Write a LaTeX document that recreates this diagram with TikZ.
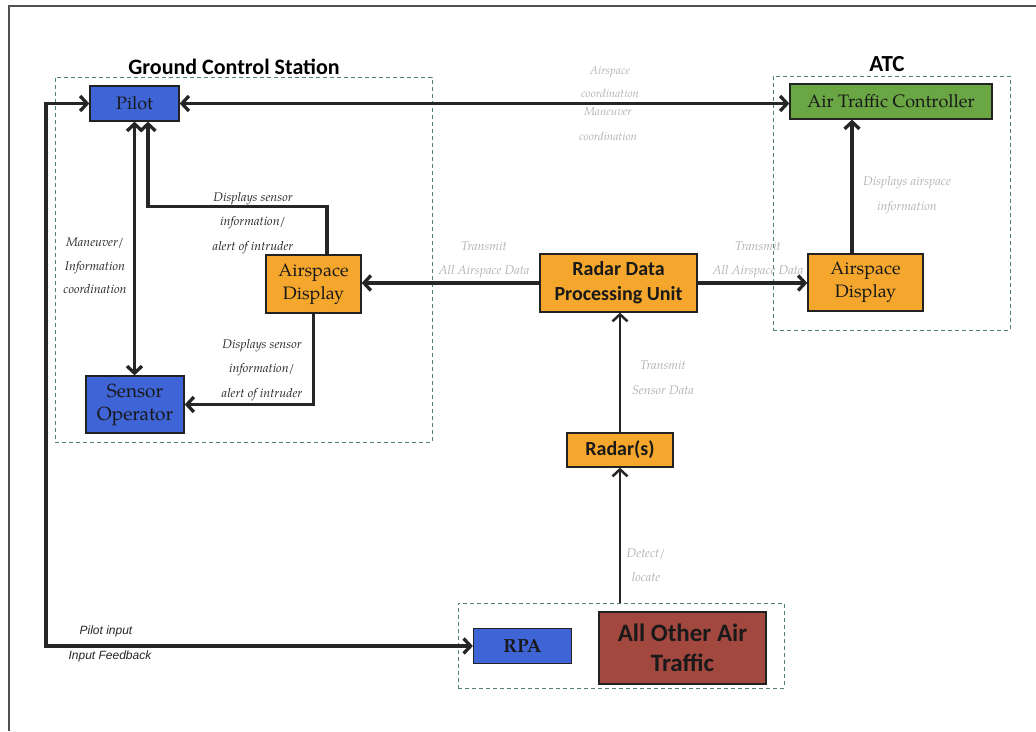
\documentclass[tikz,border=0pt]{standalone}
\usepackage{fontspec}
\newfontfamily\pala{TeX Gyre Pagella}
\newfontfamily\cali{Carlito}
\newfontfamily\arialf{Liberation Sans}
\usetikzlibrary{arrows.meta,calc}

\definecolor{pilotblue}{RGB}{62,100,214}
\definecolor{atcgreen}{RGB}{106,166,68}
\definecolor{dispor}{RGB}{244,167,44}
\definecolor{trafred}{RGB}{163,72,62}
\definecolor{boxline}{RGB}{34,34,34}
\definecolor{grpline}{RGB}{78,130,118}
\definecolor{frameline}{RGB}{80,80,80}

\begin{document}
\begin{tikzpicture}[x=1pt,y=-1pt,
  box/.style={draw=boxline, line width=1.3pt, inner sep=0pt, align=center, text=black!90},
  serifbox/.style={box, font=\pala\fontsize{18}{23}\selectfont},
  sansbox/.style={box, font=\cali\bfseries\fontsize{20}{25}\selectfont},
  grp/.style={draw=grpline, dash pattern=on 4pt off 3pt, line width=1pt, inner sep=0pt},
  grptitle/.style={font=\cali\bfseries\fontsize{22}{26}\selectfont, text=black},
  tipR/.tip={Straight Barb[length=7pt,width=15pt]},
  link/.style={line width=3.3pt, draw=black!85, -tipR},
  bilink/.style={line width=3.3pt, draw=black!85, tipR-tipR},
  slink/.style={line width=2.5pt, draw=black!85, -tipR},
  lbl/.style={font=\pala\itshape\fontsize{12.5}{24.5}\selectfont, align=center, text=black!85},
  glbl/.style={lbl, text=gray!60},
  slbl/.style={font=\arialf\itshape\fontsize{12}{14}\selectfont, text=black!85}
]
\useasboundingbox (0,0) rectangle (1036,731);

% page frame
\draw[frameline, line width=1.5pt] (9,731) -- (9,6) -- (1036,6);

% groups
\node[grp, minimum width=377pt, minimum height=365pt] (gcs) at (243.5,259.5) {};
\node[grp, minimum width=237pt, minimum height=254pt] (atcgrp) at (891.5,203) {};
\node[grp, minimum width=326pt, minimum height=85pt] (airgrp) at (621,645.5) {};
\node[grptitle] (gcst) at (234,67) {Ground Control Station};
\node[grptitle, font=\cali\bfseries\fontsize{23}{26}\selectfont] (atct) at (887,64) {ATC};

% blocks
\node[serifbox, fill=pilotblue, minimum width=89pt, minimum height=35pt] (pilot) at (134.5,103.5) {Pilot};
\node[serifbox, fill=pilotblue, minimum width=98pt, minimum height=57pt, font=\pala\fontsize{19}{23}\selectfont] (sensor) at (135,404.5) {Sensor\\Operator};
\node[serifbox, fill=dispor, minimum width=95pt, minimum height=58pt] (adg) at (313.5,284) {Airspace\\Display};
\node[sansbox, fill=dispor, minimum width=157pt, minimum height=58pt] (rdpu) at (618.5,283) {Radar Data\\Processing Unit};
\node[serifbox, fill=dispor, minimum width=115pt, minimum height=57pt] (ada) at (865.5,282.5) {Airspace\\Display};
\node[serifbox, fill=atcgreen, minimum width=202pt, minimum height=35pt] (atc) at (891,101.5) {Air Traffic Controller};
\node[sansbox, fill=dispor, minimum width=106pt, minimum height=34pt] (radar) at (620,450) {Radar(s)};
\node[serifbox, fill=pilotblue, minimum width=98pt, minimum height=35pt, font=\pala\bfseries\fontsize{19}{23}\selectfont] (rpa) at (522.5,646) {RPA};
\node[sansbox, fill=trafred, minimum width=167pt, minimum height=72pt, font=\cali\bfseries\fontsize{25}{30}\selectfont] (other) at (682.5,648) {All Other Air\\Traffic};

% connectors
\draw[bilink] (pilot.east) -- (pilot.east -| atc.west);
\draw[bilink] (pilot.south) -- (pilot.south |- sensor.north);
\coordinate (adgtop) at ($(adg.north)+(13.5,0)$);
\coordinate (pilotin) at ($(pilot.south)+(13.5,0)$);
\coordinate (adgbend) at ($(pilot.south)+(13.5,85)$);
\draw[link] (adgtop) |- (adgbend) -- (pilotin);
\draw[link] (adg.south) |- (sensor.east);
\draw[link] (rdpu.west) -- (rdpu.west -| adg.east);
\draw[link] (rdpu.east) -- (rdpu.east -| ada.west);
\coordinate (adatop) at ($(ada.north)+(-13.5,0)$);
\draw[link] (adatop) -- (adatop |- atc.south);
\draw[slink] (radar.north) -- (radar.north |- rdpu.south);
\draw[slink] (airgrp.north -| radar.south) -- (radar.south);
\coordinate (fb) at (46,400);
\draw[bilink] (pilot.west) -| (fb) |- (rpa.west);

% connector labels
\node[lbl] (l1) at (253,223) {Displays sensor\\information/\\alert of intruder};
\node[lbl] (l2) at (262,370) {Displays sensor\\information/\\alert of intruder};
\node[lbl, font=\pala\itshape\fontsize{12.5}{23.5}\selectfont] (l3) at (95,266) {Maneuver/\\Information\\coordination};
\node[glbl, font=\pala\itshape\fontsize{11.5}{23}\selectfont] (l4) at (610,82) {Airspace\\coordination};
\node[glbl, font=\pala\itshape\fontsize{11.5}{25}\selectfont] (l5) at (608,124) {Maneuver\\coordination};
\node[glbl] (l6) at (484,260) {Transmit\\All Airspace Data};
\node[glbl] (l7) at (758,260) {Transmit\\All Airspace Data};
\node[glbl] (l8) at (663,378) {Transmit\\Sensor Data};
\node[glbl] (l9) at (907,195) {Displays airspace\\information};
\node[glbl] (l10) at (646,565) {Detect/\\locate};
\node[slbl] (l11) at (106,631) {Pilot input};
\node[slbl] (l12) at (110,656) {Input Feedback};
\end{tikzpicture}
\end{document}
